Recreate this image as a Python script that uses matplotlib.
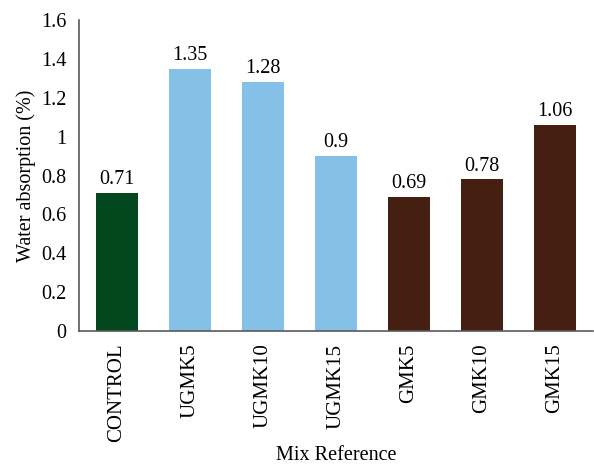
import matplotlib.pyplot as plt

categories = ["CONTROL", "UGMK5", "UGMK10", "UGMK15", "GMK5", "GMK10", "GMK15"]
values = [0.71, 1.35, 1.28, 0.9, 0.69, 0.78, 1.06]
colors = ["#03471f", "#85c1e6", "#85c1e6", "#85c1e6", "#452012", "#452012", "#452012"]
value_labels = ["0.71", "1.35", "1.28", "0.9", "0.69", "0.78", "1.06"]
yticks = [0, 0.2, 0.4, 0.6, 0.8, 1.0, 1.2, 1.4, 1.6]
ytick_labels = ["0", "0.2", "0.4", "0.6", "0.8", "1", "1.2", "1.4", "1.6"]

plt.rcParams['font.family'] = ['Liberation Serif', 'DejaVu Serif']

fig = plt.figure(figsize=(5.94, 4.67), dpi=100)
ax = fig.add_axes([0.133, 0.291, 0.865, 0.666])

x = range(len(categories))
ax.bar(x, values, width=0.57, color=colors)

for i, v in enumerate(values):
    ax.text(i, v + 0.02, value_labels[i], ha='center', va='bottom', fontsize=14.5)

ax.set_xlim(-0.52, len(categories) - 0.48)
ax.set_ylim(0, 1.6)
ax.set_yticks(yticks)
ax.set_yticklabels(ytick_labels, fontsize=14.5)
ax.set_xticks(list(x))
ax.set_xticklabels(categories, rotation=90, fontsize=15)
ax.tick_params(length=0, pad=9)

for s in ['top', 'right']:
    ax.spines[s].set_visible(False)
for s in ['left', 'bottom']:
    ax.spines[s].set_color('#595959')
    ax.spines[s].set_linewidth(1.2)

ax.set_ylabel('Water absorption (%)', fontsize=14.5, labelpad=4)
ax.set_xlabel('Mix Reference', fontsize=14.5, labelpad=3)

fig.savefig('out.png', dpi=100)
